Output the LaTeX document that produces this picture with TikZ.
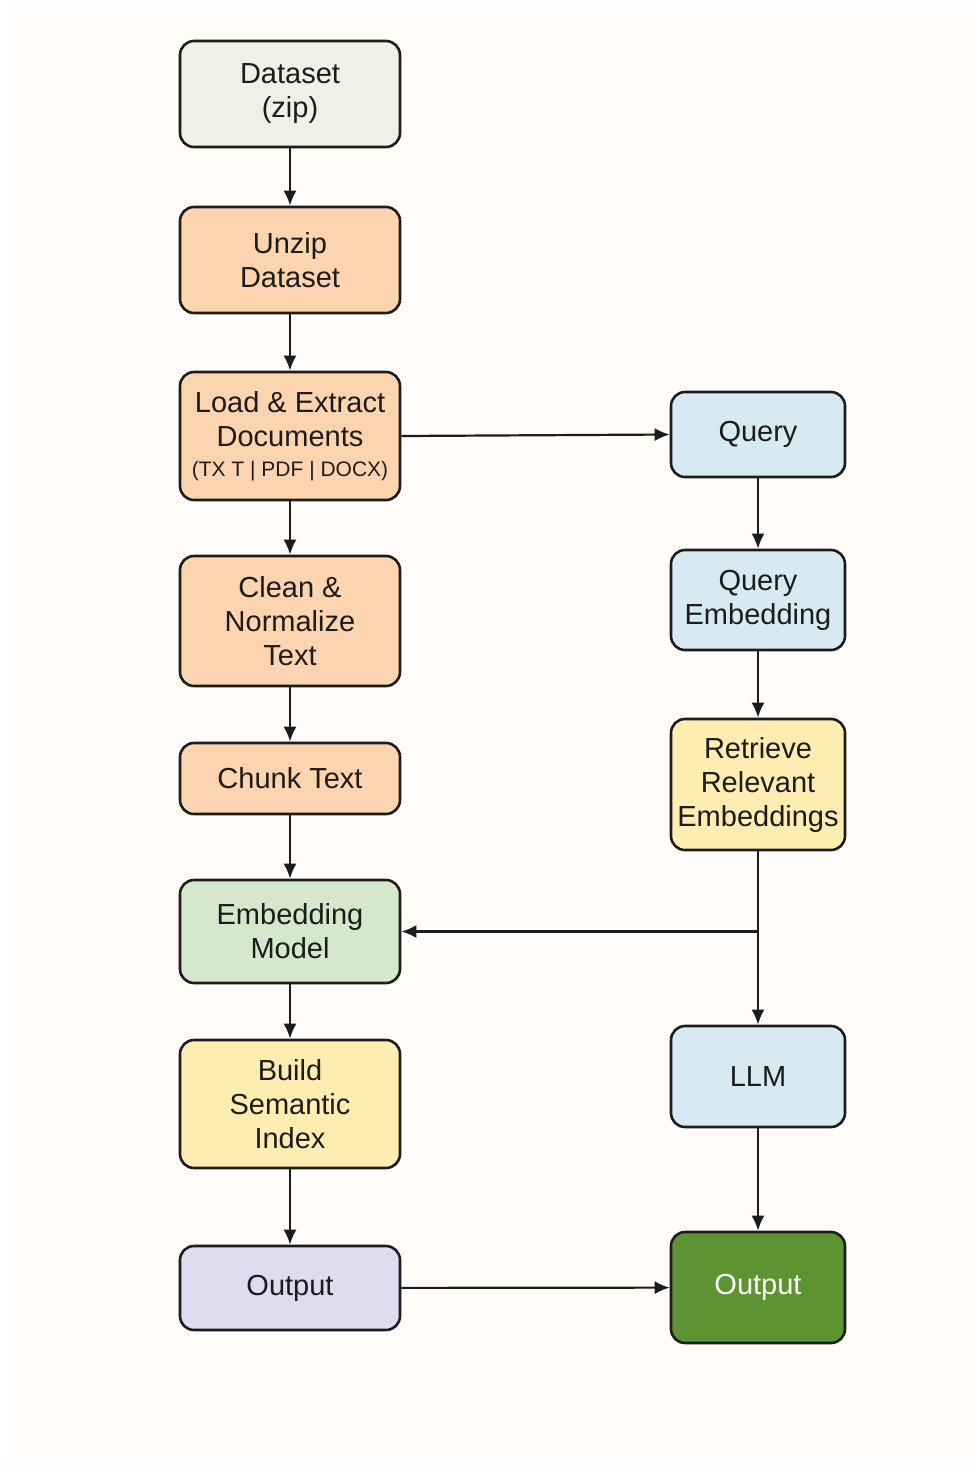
\documentclass[tikz,border=0pt]{standalone}
\usepackage{fontspec}
\setmainfont{Liberation Sans}
\usetikzlibrary{arrows.meta,calc}
\tikzset{>={Latex[length=7.5pt,width=6.5pt]}}
\colorlet{paper}{black!2!orange!2!white}
\definecolor{graybox}{HTML}{F1EFEA}
\definecolor{peach}{HTML}{FCD5B0}
\definecolor{mint}{HTML}{D5E8CB}
\definecolor{butter}{HTML}{FEEDB0}
\definecolor{lilac}{HTML}{DFDCEF}
\definecolor{sky}{HTML}{D7EAF2}
\definecolor{leaf}{HTML}{5E9331}
\definecolor{ink}{HTML}{1C1C1C}
\tikzset{
  box/.style={draw=ink, line width=1.3pt, rounded corners=7pt, align=center, inner sep=0pt,
    font=\fontsize{14.5pt}{17pt}\selectfont, text=ink},
  leftbox/.style={box, minimum width=110pt},
  rightbox/.style={box, minimum width=87pt},
  flow/.style={->, draw=ink, line width=1.1pt}
}

\begin{document}
\begin{tikzpicture}[x=0.5pt,y=-0.5pt]
  % page
  \useasboundingbox (0,0) rectangle (980,1473);
  \fill[white] (0,0) rectangle (980,1473);
  \fill[paper] (8,6) rectangle (975,1468);
  % left column
  \node (dataset) at (290,94) [leftbox, fill=graybox, minimum height=53pt] {Dataset\\(zip)};
  \node (unzip) at (290,260) [leftbox, fill=peach, minimum height=53pt] {Unzip\\Dataset};
  \node (load) at (290,436) [leftbox, fill=peach, minimum height=64pt] {Load \& Extract\\Documents\\[-2pt]{\fontsize{10.5pt}{12pt}\selectfont(TX T | PDF | DOCX)}};
  \node (clean) at (290,621) [leftbox, fill=peach, minimum height=65pt] {Clean \&\\Normalize\\Text};
  \node (chunk) at (290,778.5) [leftbox, fill=peach, minimum height=35.5pt] {Chunk Text};
  \node (embed) at (290,931.5) [leftbox, fill=mint, minimum height=51.5pt] {Embedding\\Model};
  \node (build) at (290,1104) [leftbox, fill=butter, minimum height=64pt] {Build\\Semantic\\Index};
  \node (outL) at (290,1288) [leftbox, fill=lilac, minimum height=42pt] {Output};
  % right column
  \node (query) at (758,434.5) [rightbox, fill=sky, minimum height=42.5pt] {Query};
  \node (qemb) at (758,600) [rightbox, fill=sky, minimum height=50pt] {Query\\Embedding};
  \node (retrieve) at (758,784.5) [rightbox, fill=butter, minimum height=65.5pt] {Retrieve\\Relevant\\Embeddings};
  \node (llm) at (758,1076.5) [rightbox, fill=sky, minimum height=50.5pt] {LLM};
  \node (outR) at (758,1287.5) [rightbox, fill=leaf, text=white, minimum height=55.5pt] {Output};
  % connectors
  \draw[flow] (dataset) -- (unzip);
  \draw[flow] (unzip) -- (load);
  \draw[flow] (load) -- (clean);
  \draw[flow] (clean) -- (chunk);
  \draw[flow] (chunk) -- (embed);
  \draw[flow] (embed) -- (build);
  \draw[flow] (build) -- (outL);
  \draw[flow] (load.east) -- (query.west);
  \draw[flow] (query) -- (qemb);
  \draw[flow] (qemb) -- (retrieve);
  \draw[flow] (retrieve) -- (llm);
  \coordinate (fork) at (retrieve.south |- embed.east);
  \draw[flow] (fork) -- (embed.east);
  \draw[flow] (llm) -- (outR);
  \draw[flow] (outL) -- (outR);
\end{tikzpicture}
\end{document}
